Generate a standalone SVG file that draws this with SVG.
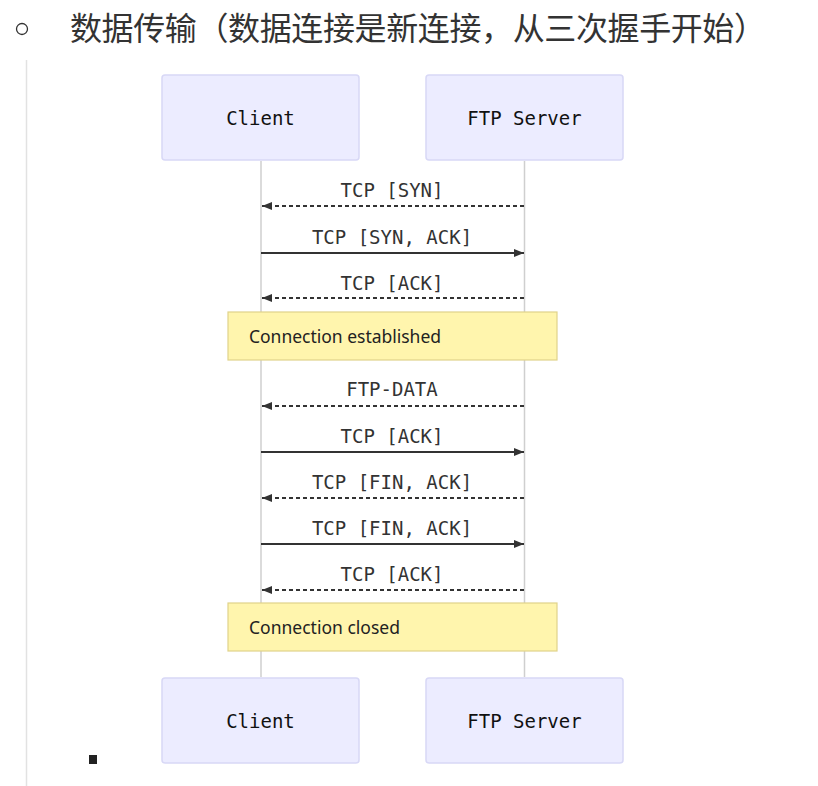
<svg xmlns="http://www.w3.org/2000/svg" width="818" height="786" viewBox="0 0 818 786">
<defs>
<style>
.actor{fill:#ECECFF;stroke:#D8D8F6;stroke-width:1.5}
.alabel{font-family:"DejaVu Sans Mono","Liberation Mono",monospace;font-size:19px;fill:#111;text-anchor:middle;dominant-baseline:central}
.life{stroke:#cfcfcf;stroke-width:1.5}
.msg{stroke:#333;stroke-width:1.8;fill:none}
.dash{stroke-dasharray:4,3}
.mlabel{font-family:"DejaVu Sans Mono","Liberation Mono",monospace;font-size:19px;fill:#333;text-anchor:middle}
.note{fill:#FFF5AD;stroke:#E0D28A;stroke-width:1.2}
.nlabel{font-family:"Noto Sans","Open Sans",sans-serif;font-size:17.5px;fill:#222}
</style>
<marker id="arr" viewBox="0 0 10 10" refX="10" refY="5" markerWidth="10" markerHeight="10" markerUnits="userSpaceOnUse" orient="auto">
<path d="M0,1 L10,5 L0,9 z" fill="#333"/>
</marker>
</defs>
<rect width="818" height="786" fill="#fff"/>
<g id="heading">
<circle cx="22" cy="29" r="5.5" fill="none" stroke="#333" stroke-width="1.3"/>
<text x="70" y="40" font-family="'Noto Sans CJK SC',sans-serif" font-size="32" fill="#333" textLength="696">数据传输（数据连接是新连接，从三次握手开始）</text>
</g>
<line x1="26.5" y1="60" x2="26.5" y2="786" stroke="#e2e2e2" stroke-width="1.5"/>
<rect id="bullet" x="89" y="755" width="8" height="9" fill="#222"/>
<g id="lifelines">
<line class="life" x1="261" y1="161" x2="261" y2="677"/>
<line class="life" x1="524.5" y1="161" x2="524.5" y2="677"/>
</g>
<g id="client-top"><rect class="actor" x="162" y="75" width="197" height="85" rx="3"/><text class="alabel" x="260.5" y="117.5">Client</text></g>
<g id="server-top"><rect class="actor" x="426" y="75" width="197" height="85" rx="3"/><text class="alabel" x="524.5" y="117.5">FTP Server</text></g>
<g id="client-bottom"><rect class="actor" x="162" y="678" width="197" height="85" rx="3"/><text class="alabel" x="260.5" y="720.5">Client</text></g>
<g id="server-bottom"><rect class="actor" x="426" y="678" width="197" height="85" rx="3"/><text class="alabel" x="524.5" y="720.5">FTP Server</text></g>
<g id="note-established"><rect class="note" x="228" y="312" width="329" height="48"/><text class="nlabel" x="249" y="343" textLength="192">Connection established</text></g>
<g id="note-closed"><rect class="note" x="228" y="603" width="329" height="48"/><text class="nlabel" x="249" y="634" textLength="151">Connection closed</text></g>
<g id="connectors">
<line class="msg dash" x1="524" y1="206" x2="262" y2="206" marker-end="url(#arr)"/>
<line class="msg" x1="261" y1="253" x2="524" y2="253" marker-end="url(#arr)"/>
<line class="msg dash" x1="524" y1="298" x2="262" y2="298" marker-end="url(#arr)"/>
<line class="msg dash" x1="524" y1="406" x2="262" y2="406" marker-end="url(#arr)"/>
<line class="msg" x1="261" y1="452" x2="524" y2="452" marker-end="url(#arr)"/>
<line class="msg dash" x1="524" y1="498" x2="262" y2="498" marker-end="url(#arr)"/>
<line class="msg" x1="261" y1="544" x2="524" y2="544" marker-end="url(#arr)"/>
<line class="msg dash" x1="524" y1="590" x2="262" y2="590" marker-end="url(#arr)"/>
<text class="mlabel" x="392" y="197">TCP [SYN]</text>
<text class="mlabel" x="392" y="244">TCP [SYN, ACK]</text>
<text class="mlabel" x="392" y="290">TCP [ACK]</text>
<text class="mlabel" x="392" y="396">FTP-DATA</text>
<text class="mlabel" x="392" y="443">TCP [ACK]</text>
<text class="mlabel" x="392" y="489">TCP [FIN, ACK]</text>
<text class="mlabel" x="392" y="535">TCP [FIN, ACK]</text>
<text class="mlabel" x="392" y="581">TCP [ACK]</text>
</g>
</svg>
